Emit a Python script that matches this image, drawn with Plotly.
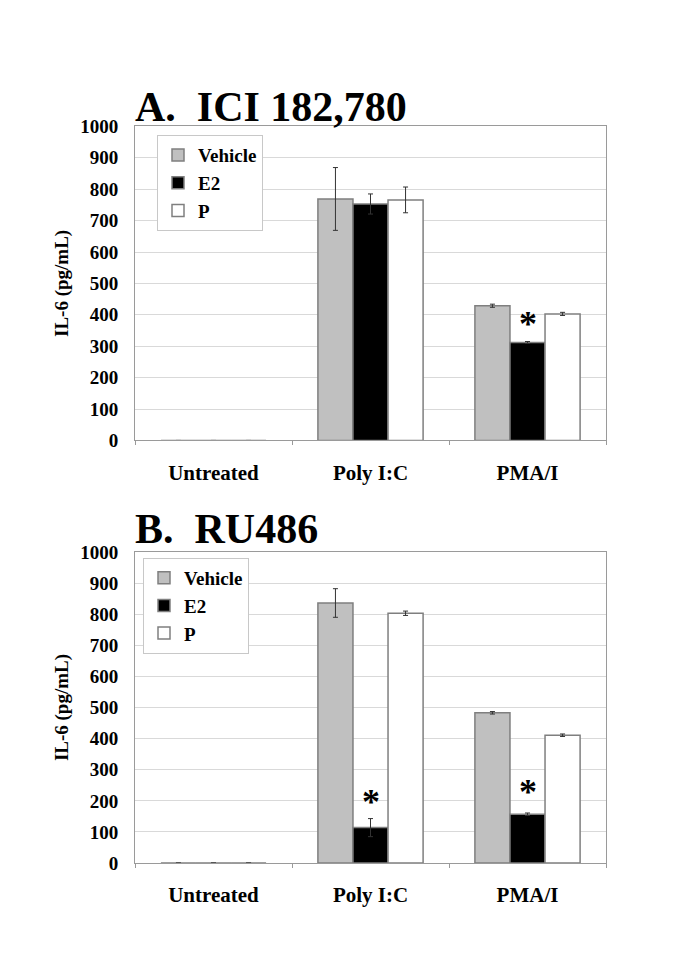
import plotly.graph_objects as go

categories = ["Untreated", "Poly I:C", "PMA/I"]
series_names = ["Vehicle", "E2", "P"]

# Panel A: ICI 182,780
a_vehicle = [0, 769, 429]
a_vehicle_err = [0, 100, 5]
a_e2 = [0, 753, 312]
a_e2_err = [0, 32, 3]
a_p = [0, 766, 403]
a_p_err = [0, 41, 5]

# Panel B: RU486
b_vehicle = [0, 836, 483]
b_vehicle_err = [0, 46, 4]
b_e2 = [0, 114, 157]
b_e2_err = [0, 29, 4]
b_p = [0, 803, 411]
b_p_err = [0, 7, 4]

y_ticks = [0, 100, 200, 300, 400, 500, 600, 700, 800, 900, 1000]

# significance markers (category, y value) per panel
a_stars = [("PMA/I", 372)]
b_stars = [("Poly I:C", 196), ("PMA/I", 227)]

W, H = 685, 968
FONT = "Liberation Serif, Times New Roman, serif"
fills = ["#c0c0c0", "#000000", "#ffffff"]
edge = "#7f7f7f"


def px_x(v):
    return v / W


def px_y(v):
    return 1 - v / H


fig = go.Figure()


def add_panel(vals, errs, xa, ya, legend_name):
    for name, v, e, c in zip(series_names, vals, errs, fills):
        fig.add_trace(go.Bar(
            x=categories, y=v, name=name,
            marker=dict(color=c, line=dict(color=edge, width=1.5)),
            error_y=dict(type="data", array=e, visible=True,
                         color="#333333", thickness=1, width=2.5),
            xaxis=xa, yaxis=ya, legend=legend_name,
        ))


add_panel([a_vehicle, a_e2, a_p], [a_vehicle_err, a_e2_err, a_p_err], "x", "y", "legend")
add_panel([b_vehicle, b_e2, b_p], [b_vehicle_err, b_e2_err, b_p_err], "x2", "y2", "legend2")

xdom = [px_x(135), px_x(606)]
ydomA = [px_y(440), px_y(119)]
ydomB = [px_y(872), px_y(554)]

ytickfont = dict(family=FONT, size=19, color="black", weight="bold")
xtickfont = dict(family=FONT, size=21, color="black", weight="bold")


def xaxis(anchor):
    return dict(domain=xdom, anchor=anchor, type="category",
                showline=True, linecolor="#9a9a9a", linewidth=1, mirror=True,
                ticks="outside", tickson="boundaries", ticklen=4, tickcolor="#9a9a9a",
                tickfont=xtickfont, ticklabelstandoff=13, showgrid=False)


def yaxis(domain, anchor):
    return dict(domain=domain, anchor=anchor, range=[0, 1000],
                tickvals=y_ticks, ticktext=[str(t) for t in y_ticks],
                showgrid=True, gridcolor="#d9d9d9", gridwidth=1,
                showline=True, linecolor="#9a9a9a", linewidth=1, mirror=True,
                ticks="", tickfont=ytickfont, ticklabelstandoff=12,
                zeroline=False,
                title=dict(text="IL-6 (pg/mL)", standoff=6,
                           font=dict(family=FONT, size=19, color="black", weight="bold")))


legfont = dict(family=FONT, size=19, color="black", weight="bold")

annotations = [
    dict(text="A.  ICI 182,780", xref="paper", yref="paper", x=px_x(133), y=px_y(99),
         xanchor="left", yanchor="middle", showarrow=False,
         font=dict(family=FONT, size=42, color="black", weight="bold")),
    dict(text="B.  RU486", xref="paper", yref="paper", x=px_x(133), y=px_y(531),
         xanchor="left", yanchor="middle", showarrow=False,
         font=dict(family=FONT, size=42, color="black", weight="bold")),
]
for cat, yv in a_stars:
    annotations.append(dict(text="*", x=cat, y=yv, xref="x", yref="y", showarrow=False,
                            yanchor="middle", font=dict(family=FONT, size=36, color="black", weight="bold")))
for cat, yv in b_stars:
    annotations.append(dict(text="*", x=cat, y=yv, xref="x2", yref="y2", showarrow=False,
                            yanchor="middle", font=dict(family=FONT, size=36, color="black", weight="bold")))

fig.update_layout(
    width=W, height=H,
    margin=dict(l=0, r=0, t=0, b=0),
    paper_bgcolor="white", plot_bgcolor="white",
    barmode="group", bargap=0.33, bargroupgap=0,
    xaxis=xaxis("y"), yaxis=yaxis(ydomA, "x"),
    xaxis2=xaxis("y2"), yaxis2=yaxis(ydomB, "x2"),
    legend=dict(x=px_x(157), y=px_y(128), xanchor="left", yanchor="top",
                bgcolor="white", bordercolor="#c8c8c8", borderwidth=1,
                font=legfont, itemwidth=30, tracegroupgap=0),
    legend2=dict(x=px_x(143), y=px_y(560), xanchor="left", yanchor="top",
                 bgcolor="white", bordercolor="#c8c8c8", borderwidth=1,
                 font=legfont, itemwidth=30, tracegroupgap=0),
    annotations=annotations,
    showlegend=True,
)

fig.write_html(
    "out.html",
    config={"displayModeBar": False},
    post_script="document.body.style.margin='0px';document.body.style.overflow='hidden';",
)
